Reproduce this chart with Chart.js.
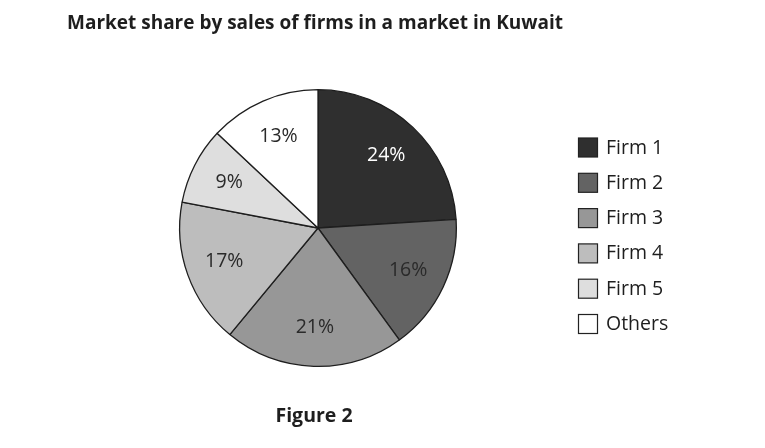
<!DOCTYPE html>
<html><head><meta charset="utf-8">
<script src="https://cdn.jsdelivr.net/npm/chart.js@4/dist/chart.umd.min.js"></script>
<style>
html,body{margin:0;padding:0;background:#fff;}
#wrap{position:relative;width:765px;height:448px;}
</style></head>
<body><div id="wrap"><canvas id="c" width="765" height="448"></canvas></div>
<script>
const titleText = "Market share by sales of firms in a market in Kuwait";
const captionText = "Figure 2";
const categories = ["Firm 1","Firm 2","Firm 3","Firm 4","Firm 5","Others"];
const shares = [24,16,21,17,9,13];
const colors = ["#2f2f2f","#636363","#979797","#bdbdbd","#dedede","#ffffff"];
const labelColors = ["#ffffff","#2a2a2a","#2a2a2a","#2a2a2a","#2a2a2a","#2a2a2a"];

const FONT = '"Open Sans", "Noto Sans", sans-serif';

const drawExtras = {
  id:'extras',
  afterDraw(chart){
    const ctx = chart.ctx;
    ctx.save();
    // title
    ctx.fillStyle = '#1e1e1e';
    ctx.font = 'bold 19px ' + FONT;
    ctx.textBaseline = 'alphabetic';
    ctx.textAlign = 'left';
    ctx.fillText(titleText, 67, 29);
    // caption
    ctx.font = 'bold 19.5px ' + FONT;
    ctx.textAlign = 'center';
    ctx.fillText(captionText, 314, 422);
    // slice labels
    const meta = chart.getDatasetMeta(0);
    ctx.font = '19.5px ' + FONT;
    ctx.textBaseline = 'middle';
    meta.data.forEach((arc, i) => {
      const p = arc.getProps(['x','y','startAngle','endAngle','outerRadius'], true);
      const mid = (p.startAngle + p.endAngle)/2;
      const r = p.outerRadius * 0.72;
      ctx.fillStyle = labelColors[i];
      ctx.textAlign = 'center';
      ctx.fillText(shares[i] + '%', p.x + Math.cos(mid)*r, p.y + Math.sin(mid)*r);
    });
    // legend
    ctx.font = '19.5px ' + FONT;
    ctx.textAlign = 'left';
    ctx.textBaseline = 'alphabetic';
    categories.forEach((c, i) => {
      const cy = 147.5 + i*35.3;
      ctx.fillStyle = colors[i];
      ctx.fillRect(578.5, cy-9.5, 19, 19);
      ctx.strokeStyle = '#222';
      ctx.lineWidth = 1.2;
      ctx.strokeRect(578.5, cy-9.5, 19, 19);
      ctx.fillStyle = '#1e1e1e';
      ctx.fillText(c, 606, cy + 6);
    });
    ctx.restore();
  }
};

new Chart(document.getElementById('c'), {
  type:'pie',
  data:{ labels:categories, datasets:[{ data:shares, backgroundColor:colors, borderColor:'#1e1e1e', borderWidth:1.3, hoverOffset:0 }]},
  options:{
    responsive:false, animation:false, events:[],
    layout:{ padding:{ left:179, right:308, top:89, bottom:81 } },
    plugins:{ legend:{display:false}, tooltip:{enabled:false}, title:{display:false} }
  },
  plugins:[drawExtras]
});
</script></body></html>
